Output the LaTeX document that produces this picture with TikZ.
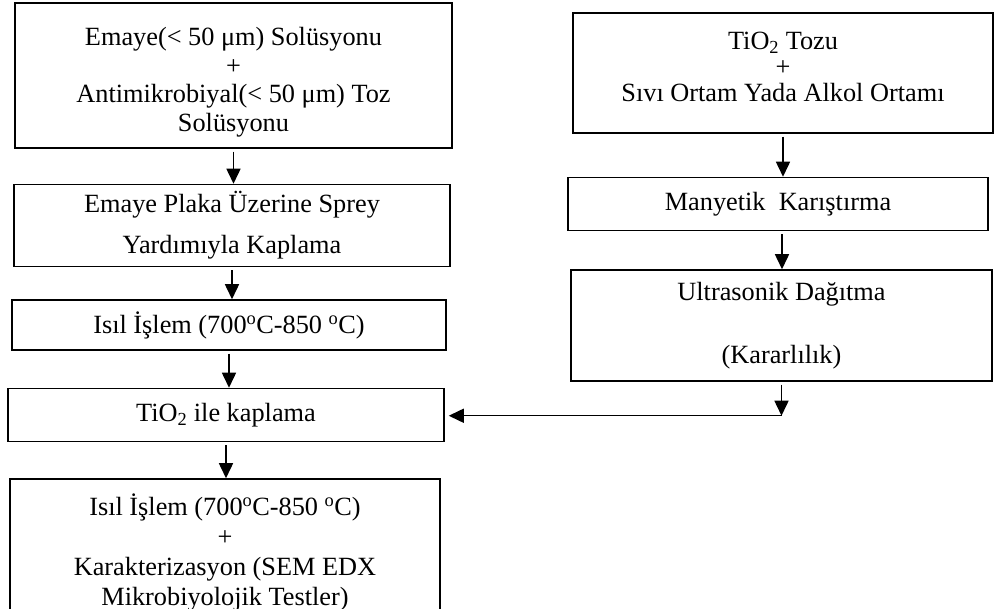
\documentclass[tikz,border=0pt]{standalone}
\usepackage{fontspec}
\setmainfont{Liberation Serif}
\usetikzlibrary{arrows.meta,positioning}

\begin{document}
\begin{tikzpicture}[x=1pt,y=1pt,node distance=35pt,
    box/.style={draw, line width=1.5pt, align=center, inner sep=0pt,
                font=\fontsize{26.3}{31}\selectfont},
    flow/.style={-{Triangle[length=15pt,width=14pt]}, line width=1.5pt,
                 shorten <=3pt}]

  \useasboundingbox (0,0) rectangle (994,-609);
  \clip (0,0) rectangle (994,-609);

  %Left column%
  \node[box, minimum width=437pt, minimum height=145pt,
        font=\fontsize{26.3}{28.5}\selectfont] (emaye) at (233.5,-75.5)
    {\rule{0pt}{32pt}Emaye(< 50 μm) Solüsyonu\\+\\Antimikrobiyal(< 50 μm) Toz\\Solüsyonu};
  \node[box, minimum width=436pt, minimum height=82pt,
        font=\fontsize{26.3}{41}\selectfont] (sprey) [below=35pt of emaye, xshift=-1.5pt]
    {Emaye Plaka Üzerine Sprey\\Yardımıyla Kaplama};
  \node[box, minimum width=434pt, minimum height=50pt] (isil) [below=32pt of sprey, xshift=-3pt]
    {Isıl İşlem (700\textsuperscript{o}C-850 \textsuperscript{o}C)};
  \node[box, minimum width=436pt, minimum height=53pt] (kaplama) [below=37pt of isil, xshift=-3pt]
    {TiO\textsubscript{2} ile kaplama};
  \node[box, minimum width=430pt, minimum height=147pt,
        font=\fontsize{26.3}{30}\selectfont] (karakter) [below=36pt of kaplama, xshift=-1pt]
    {Isıl İşlem (700\textsuperscript{o}C-850 \textsuperscript{o}C)\\+\\Karakterizasyon (SEM EDX\\Mikrobiyolojik Testler)};

  %Right column%
  \node[box, minimum width=420pt, minimum height=120pt,
        font=\fontsize{26.3}{26}\selectfont] (tozu) at (783,-73)
    {TiO\textsubscript{2} Tozu\\+\\Sıvı Ortam Yada Alkol Ortamı\rule[-12pt]{0pt}{0pt}};
  \node[box, minimum width=420pt, minimum height=53pt] (manyetik) [below=43pt of tozu, xshift=-5pt]
    {Manyetik\ \ Karıştırma};
  \node[box, minimum width=421pt, minimum height=111pt,
        font=\fontsize{26.3}{31.5}\selectfont] (ultra) [below=38pt of manyetik, xshift=3.5pt]
    {Ultrasonik Dağıtma\\[31.5pt](Kararlılık)};
  \coordinate[below=34pt of ultra.south] (join);

  \draw[flow] (emaye.south) -- (emaye.south |- sprey.north);
  \draw[flow] (sprey.south) -- (sprey.south |- isil.north);
  \draw[flow] (isil.south) -- (isil.south |- kaplama.north);
  \draw[flow] (kaplama.south) -- (kaplama.south |- karakter.north);

  \draw[flow] (tozu.south) -- (tozu.south |- manyetik.north);
  \draw[flow] ([xshift=4pt]manyetik.south) -- ([xshift=4pt]manyetik.south |- ultra.north);
  \draw[flow] (ultra.south) -- (join);
  \draw[flow, shorten <=0pt, shorten >=4pt] (join) -- (join -| kaplama.east);
\end{tikzpicture}
\end{document}
